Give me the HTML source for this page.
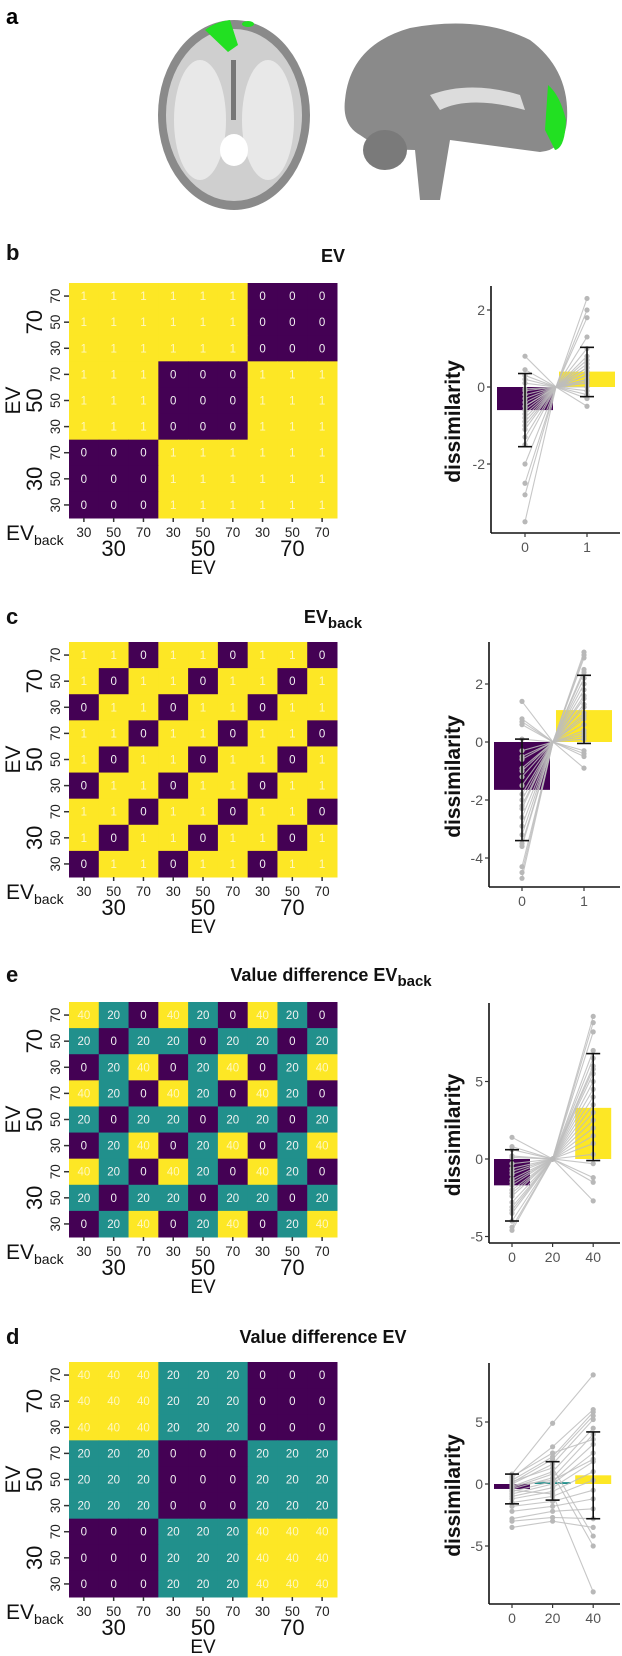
<!DOCTYPE html>
<html><head><meta charset="utf-8"><style>
html,body{margin:0;padding:0;background:#fff;}
svg{display:block;font-family:"Liberation Sans",Arial,sans-serif;}
</style></head><body>
<svg id="fig" width="622" height="1656" viewBox="0 0 622 1656" xmlns="http://www.w3.org/2000/svg">
<g>
 <text x="6" y="24" font-size="22" font-weight="bold">a</text>
 <g>
  <ellipse cx="234" cy="115" rx="76" ry="95" fill="#8a8a8a"/>
  <ellipse cx="234" cy="115" rx="68" ry="86" fill="#cfcfcf"/>
  <ellipse cx="200" cy="120" rx="26" ry="60" fill="#e8e8e8"/>
  <ellipse cx="268" cy="120" rx="26" ry="60" fill="#e8e8e8"/>
  <ellipse cx="234" cy="150" rx="14" ry="16" fill="#fff"/>
  <rect x="231" y="60" width="5" height="60" fill="#777"/>
  <path d="M205 30 Q215 22 230 20 L238 45 L228 52 Z" fill="#22e022"/>
  <ellipse cx="248" cy="24" rx="6" ry="3" fill="#22e022"/>
 </g>
 <g>
  <path d="M345 100 Q350 45 410 28 Q480 15 530 40 Q570 70 567 120 Q565 150 540 152 L450 140 L440 200 L420 200 L415 150 Q380 150 360 135 Q342 125 345 100 Z" fill="#8a8a8a"/>
  <path d="M430 95 Q470 80 520 95 L525 110 Q470 95 440 110 Z" fill="#dcdcdc"/>
  <ellipse cx="385" cy="150" rx="22" ry="20" fill="#7a7a7a"/>
  <path d="M548 85 Q560 95 566 120 Q565 148 555 150 L545 130 Z" fill="#22e022"/>
 </g>
</g>
<g id="heatmaps"></g>
<g id="bars"></g>
</svg>
<script>
const NS="http://www.w3.org/2000/svg";
// ---- heatmap data (rows top->bottom: EV70 back70/50/30, EV50..., EV30...) ----
const hmRowLabels=["70","50","30","70","50","30","70","50","30"];
const hmColLabels=["30","50","70","30","50","70","30","50","70"];
const hmGroupLabels=["30","50","70"];
const matB=[[1,1,1,1,1,1,0,0,0],[1,1,1,1,1,1,0,0,0],[1,1,1,1,1,1,0,0,0],
[1,1,1,0,0,0,1,1,1],[1,1,1,0,0,0,1,1,1],[1,1,1,0,0,0,1,1,1],
[0,0,0,1,1,1,1,1,1],[0,0,0,1,1,1,1,1,1],[0,0,0,1,1,1,1,1,1]];
const matC=[[1,1,0,1,1,0,1,1,0],[1,0,1,1,0,1,1,0,1],[0,1,1,0,1,1,0,1,1],
[1,1,0,1,1,0,1,1,0],[1,0,1,1,0,1,1,0,1],[0,1,1,0,1,1,0,1,1],
[1,1,0,1,1,0,1,1,0],[1,0,1,1,0,1,1,0,1],[0,1,1,0,1,1,0,1,1]];
const matE=[[40,20,0,40,20,0,40,20,0],[20,0,20,20,0,20,20,0,20],[0,20,40,0,20,40,0,20,40],
[40,20,0,40,20,0,40,20,0],[20,0,20,20,0,20,20,0,20],[0,20,40,0,20,40,0,20,40],
[40,20,0,40,20,0,40,20,0],[20,0,20,20,0,20,20,0,20],[0,20,40,0,20,40,0,20,40]];
const matD=[[40,40,40,20,20,20,0,0,0],[40,40,40,20,20,20,0,0,0],[40,40,40,20,20,20,0,0,0],
[20,20,20,0,0,0,20,20,20],[20,20,20,0,0,0,20,20,20],[20,20,20,0,0,0,20,20,20],
[0,0,0,20,20,20,40,40,40],[0,0,0,20,20,20,40,40,40],[0,0,0,20,20,20,40,40,40]];

// ---- bar chart data ----
const catsB=[0,1];
const meansB=[-0.6,0.4];
const errLoB=[-1.55,-0.25];
const errHiB=[0.35,1.03];
const subjB0=[0.8,0.45,0.3,0.1,-0.1,-0.2,-0.3,-0.4,-0.5,-0.5,-0.6,-0.7,-0.8,-0.9,-1.0,-1.1,-1.3,-1.5,-2.0,-2.5,-2.8,-3.5,0.2,-0.05];
const subjB1=[2.3,2.0,1.8,1.3,1.0,0.8,0.6,0.5,0.4,0.3,0.3,0.2,0.1,0.1,0.0,-0.1,-0.2,-0.3,-0.5,0.5,0.7,0.2,0.4,0.15];
const ticksB=[-2,0,2];

const catsC=[0,1];
const meansC=[-1.65,1.1];
const errLoC=[-3.4,-0.05];
const errHiC=[0.1,2.3];
const subjC0=[1.4,0.8,0.7,0.6,0.1,-0.3,-0.6,-0.9,-1.2,-1.5,-1.8,-2.0,-2.3,-2.6,-2.9,-3.2,-3.5,-3.6,-4.3,-4.5,-4.7,-1.0,-0.5,-2.2];
const subjC1=[3.1,3.0,2.9,2.5,2.4,2.0,1.8,1.5,1.2,1.0,0.9,0.6,0.4,0.3,0.1,-0.3,-0.5,-0.9,2.2,1.6,1.3,0.8,0.2,-0.4];
const ticksC=[-4,-2,0,2];

const catsE=[0,20,40];
const meansE=[-1.7,0,3.3];
const errLoE=[-4.0,0,-0.1];
const errHiE=[0.6,0,6.8];
const subjE0=[1.4,0.8,0.6,0.2,-0.3,-0.6,-1.0,-1.3,-1.7,-2.0,-2.4,-2.8,-3.1,-3.5,-4.0,-4.4,-4.6,-1.5,-0.8,-2.2,-3.3,0.1];
const subjE20=[0,0,0,0,0,0,0,0,0,0,0,0,0,0,0,0,0,0,0,0,0,0];
const subjE40=[9.2,8.8,8.2,7.0,6.5,6.0,5.5,5.0,4.5,4.0,3.5,3.0,2.5,2.0,1.5,1.0,0.3,-0.3,-1.2,-1.5,-2.7,5.8];
const ticksE=[-5,0,5];

const catsD=[0,20,40];
const meansD=[-0.4,0.15,0.7];
const errLoD=[-1.6,-1.3,-2.8];
const errHiD=[0.8,1.8,4.2];
const subjD0=[0.8,0.5,0.3,0.1,0,-0.2,-0.4,-0.6,-0.8,-1.0,-1.2,-1.5,-1.8,-2.2,-2.8,-3.0,-3.5,0.2,-0.3,-0.5,-0.1,0.6];
const subjD20=[4.9,3.0,2.2,2.0,1.6,1.0,0.5,0.2,0,-0.3,-0.6,-1.0,-1.4,-1.8,-2.2,-2.7,-3.0,1.3,0.8,-0.8,0.3,2.5];
const subjD40=[8.8,6.0,5.8,5.5,5.2,4.5,4.0,3.2,2.5,1.8,1.0,0.3,-0.5,-1.2,-2.0,-2.8,-3.5,-4.2,-5.0,-8.7,2.0,3.6];
const ticksD=[-5,0,5];

const COL={0:"#440154",20:"#21908C",40:"#FDE725",1:"#FDE725"};
function mk(tag,attrs,parent){const e=document.createElementNS(NS,tag);for(const k in attrs)e.setAttribute(k,attrs[k]);parent.appendChild(e);return e;}

function heatmap(mat,top,name,colorFn){
 const g=mk("g",{},document.getElementById("heatmaps"));
 
 
 const left=69,W=268,H=235,cw=W/9,ch=H/9;
 const xs=i=>left+i*cw, ys=j=>top+j*ch;
 mat.forEach((row,j)=>row.forEach((v,i)=>{
  const r=mk("rect",{x:xs(i),y:ys(j),width:cw+0.5,height:ch+0.5,fill:colorFn(v)},g);
  
  
  const t=mk("text",{x:xs(i)+cw/2,y:ys(j)+ch/2+4,"font-size":"11.5","text-anchor":"middle",fill:(colorFn(v)=="#FDE725")?"#fff7c0":"#f2f2f2"},g);
  t.textContent=v;
  
  
 }));
 const bottom=top+H;
 hmColLabels.forEach((l,i)=>{
  mk("line",{x1:xs(i)+cw/2,x2:xs(i)+cw/2,y1:bottom,y2:bottom+4,stroke:"#333","stroke-width":1.5},g);
  const t=mk("text",{x:xs(i)+cw/2,y:bottom+19,"font-size":"13.5","text-anchor":"middle",fill:"#222"},g);
  t.textContent=l;
  
  
 });
 hmRowLabels.forEach((l,j)=>{
  const cy=ys(j)+ch/2;
  mk("line",{x1:left-5,x2:left,y1:cy,y2:cy,stroke:"#333","stroke-width":1.5},g);
  const t=mk("text",{x:0,y:0,"font-size":"13.5","text-anchor":"middle",fill:"#222",transform:`translate(60,${cy}) rotate(-90)`},g);
  t.textContent=l;
  
  
 });
 hmGroupLabels.forEach((l,k)=>{
  const t=mk("text",{x:left+(k*3+1.5)*cw,y:bottom+38,"font-size":"22","text-anchor":"middle",fill:"#111"},g);
  t.textContent=l;
  
  
  const t2=mk("text",{x:0,y:0,"font-size":"22","text-anchor":"middle",fill:"#111",transform:`translate(42,${top+((2-k)*3+1.5)*ch}) rotate(-90)`},g);
  t2.textContent=l;
  
  
 });
 const evb=mk("text",{x:6,y:bottom+22,"font-size":"21",fill:"#111"},g);
 evb.innerHTML='EV<tspan font-size="14" dy="5">back</tspan>';
 
 
 const ex=mk("text",{x:left+W/2,y:bottom+56,"font-size":"19","text-anchor":"middle",fill:"#111"},g);
 ex.textContent="EV";
 
 
 const ey=mk("text",{x:0,y:0,"font-size":"21","text-anchor":"middle",fill:"#111",transform:`translate(20,${top+H/2}) rotate(-90)`},g);
 ey.textContent="EV";
 
 
}

function barChart(o){
 const g=mk("g",{},document.getElementById("bars"));
 
 
 const yv=v=>o.zero-v*o.unit;
 const xv=c=>o.x0+(c-o.cats[0])*o.step;
 const bw=o.bw;
 o.cats.forEach((c,i)=>{
  const y1=yv(o.means[i]),y0=yv(0);
  const r=mk("rect",{x:xv(c)-bw/2,y:Math.min(y0,y1),width:bw,height:Math.abs(y1-y0),fill:COL[c]},g);
  
  
 });
 const n=o.subj[0].length;
 for(let s=0;s<n;s++){
  let pts=[];
  o.subj.forEach((arr,i)=>{
   if(i>0&&o.mid) pts.push([(xv(o.cats[i-1])+xv(o.cats[i]))/2,yv(0)]);
   pts.push([xv(o.cats[i]),yv(arr[s])]);
  });
  const p=mk("polyline",{points:pts.map(p=>p.join(",")).join(" "),fill:"none",stroke:"#bdbdbd","stroke-width":1.1,opacity:0.85},g);
  
  
 }
 o.subj.forEach((arr,i)=>arr.forEach(v=>{
  const c=mk("circle",{cx:xv(o.cats[i]),cy:yv(v),r:2.6,fill:"#b8b8b8"},g);
  
  
 }));
 o.cats.forEach((c,i)=>{
  if(o.errLo[i]==o.errHi[i]) return;
  const x=xv(c),a=yv(o.errLo[i]),b=yv(o.errHi[i]);
  const eg=mk("g",{stroke:"#111","stroke-width":1.6},g);
  
  
  mk("line",{x1:x,x2:x,y1:a,y2:b},eg);
  mk("line",{x1:x-7,x2:x+7,y1:a,y2:a},eg);
  mk("line",{x1:x-7,x2:x+7,y1:b,y2:b},eg);
 });
 mk("line",{x1:o.ax,x2:o.ax,y1:o.top,y2:o.bottom,stroke:"#111","stroke-width":1.6},g);
 mk("line",{x1:o.ax,x2:620,y1:o.bottom,y2:o.bottom,stroke:"#111","stroke-width":1.6},g);
 o.ticks.forEach(t=>{
  mk("line",{x1:o.ax-4,x2:o.ax,y1:yv(t),y2:yv(t),stroke:"#333","stroke-width":1.2},g);
  const tx=mk("text",{x:o.ax-6,y:yv(t)+5,"font-size":"14","text-anchor":"end",fill:"#555"},g);
  tx.textContent=t;
  
  
 });
 o.cats.forEach(c=>{
  mk("line",{x1:xv(c),x2:xv(c),y1:o.bottom,y2:o.bottom+4,stroke:"#333","stroke-width":1.2},g);
  const tx=mk("text",{x:xv(c),y:o.bottom+19,"font-size":"14","text-anchor":"middle",fill:"#555"},g);
  tx.textContent=c;
  
  
 });
 const yt=mk("text",{x:0,y:0,"font-size":"21","font-weight":"bold","text-anchor":"middle",fill:"#111",transform:`translate(460,${(o.top+o.bottom)/2+12}) rotate(-90)`},g);
 yt.textContent="dissimilarity";
 
 
}

function title(x,y,html,name){
 const t=mk("text",{x:x,y:y,"font-size":"18","font-weight":"bold","text-anchor":"middle",fill:"#111"},document.getElementById("fig"));
 t.innerHTML=html;
 
 
}
function plabel(y,l){
 const t=mk("text",{x:6,y:y,"font-size":"22","font-weight":"bold",fill:"#111"},document.getElementById("fig"));
 t.textContent=l;
 
 
}
const c2=v=>v==0?"#440154":"#FDE725";
const c3=v=>COL[v];

plabel(260,"b"); title(333,262,"EV","title-b");
heatmap(matB,283,"heatmap-ev",c2);
barChart({name:"bar-chart-b",cats:catsB,means:meansB,errLo:errLoB,errHi:errHiB,subj:[subjB0,subjB1],ticks:ticksB,ax:491,top:286,bottom:533,zero:387,unit:38.5,x0:525,step:62,bw:56,mid:true});

plabel(624,"c"); title(333,623,'EV<tspan font-size="15" dy="5">back</tspan>',"title-c");
heatmap(matC,642,"heatmap-ev-back",c2);
barChart({name:"bar-chart-c",cats:catsC,means:meansC,errLo:errLoC,errHi:errHiC,subj:[subjC0,subjC1],ticks:ticksC,ax:489,top:642,bottom:887,zero:742,unit:29,x0:522,step:62,bw:56,mid:true});

plabel(982,"e"); title(331,981,'Value difference EV<tspan font-size="15" dy="5">back</tspan>',"title-e");
heatmap(matE,1002,"heatmap-value-diff-ev-back",c3);
barChart({name:"bar-chart-e",cats:catsE,means:meansE,errLo:errLoE,errHi:errHiE,subj:[subjE0,subjE20,subjE40],ticks:ticksE,ax:489,top:1003,bottom:1243,zero:1159,unit:15.5,x0:512,step:2.03,bw:36,mid:false});

plabel(1344,"d"); title(323,1343,"Value difference EV","title-d");
heatmap(matD,1362,"heatmap-value-diff-ev",c3);
barChart({name:"bar-chart-d",cats:catsD,means:meansD,errLo:errLoD,errHi:errHiD,subj:[subjD0,subjD20,subjD40],ticks:ticksD,ax:489,top:1363,bottom:1604,zero:1484,unit:12.4,x0:512,step:2.03,bw:36,mid:false});
</script>
</body></html>
